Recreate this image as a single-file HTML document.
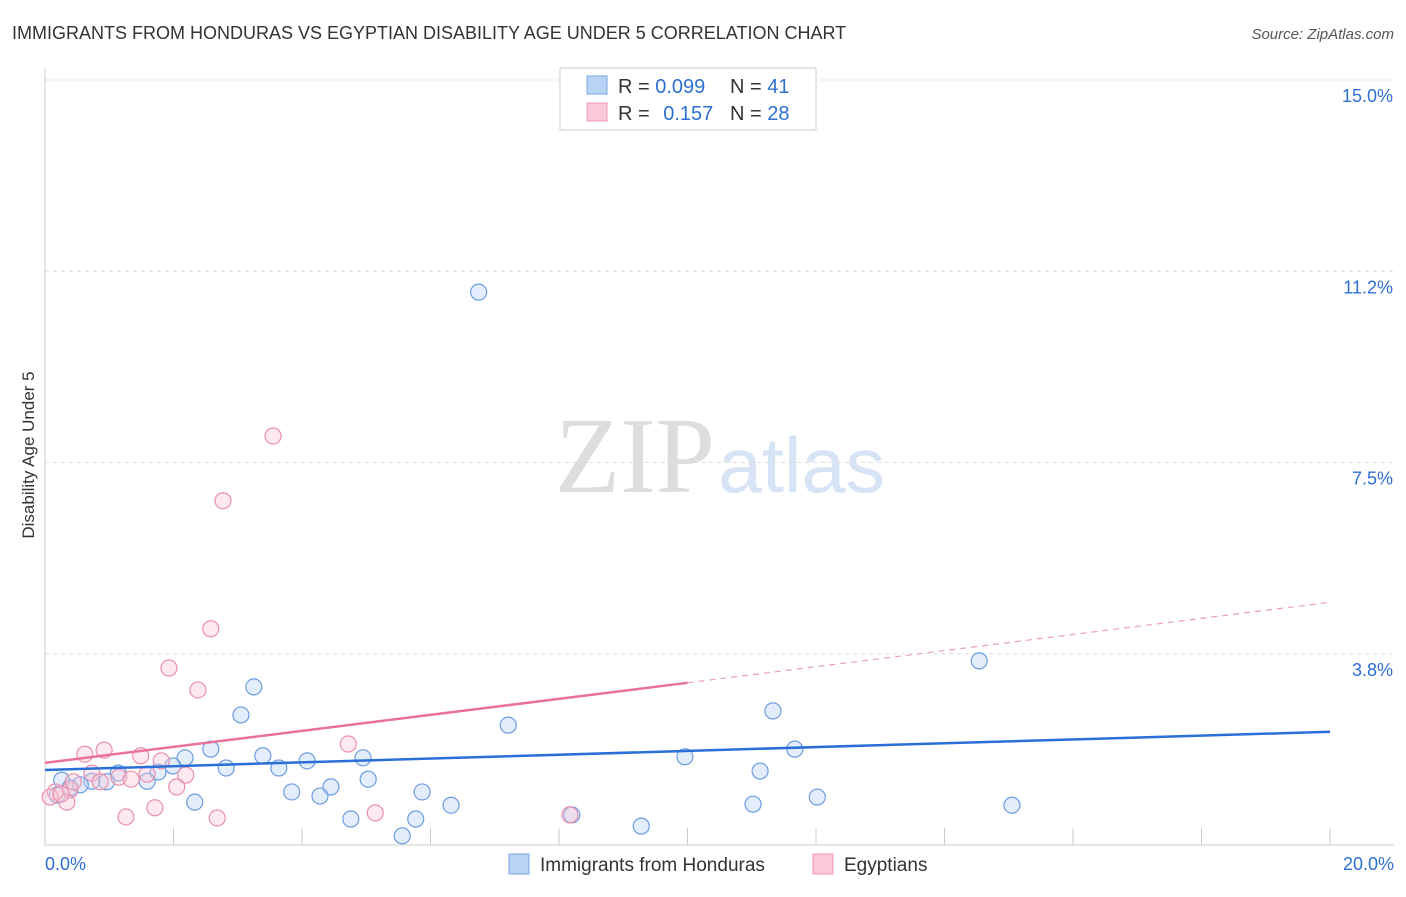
<!DOCTYPE html>
<html><head><meta charset="utf-8"><style>
body{margin:0;background:#fff;font-family:"Liberation Sans",sans-serif}
</style></head><body>
<svg width="1406" height="892" font-family="Liberation Sans, sans-serif">
<text x="12" y="39" font-size="18" fill="#333">IMMIGRANTS FROM HONDURAS VS EGYPTIAN DISABILITY AGE UNDER 5 CORRELATION CHART</text>
<text x="1394" y="39" font-size="15" fill="#555" text-anchor="end" font-style="italic">Source: ZipAtlas.com</text>
<text x="555" y="492" font-size="108" fill="#ddd" textLength="160" lengthAdjust="spacingAndGlyphs" font-family="Liberation Serif, serif">ZIP</text>
<text x="718" y="492" font-size="78" fill="#d6e4f5" textLength="167" lengthAdjust="spacingAndGlyphs">atlas</text>
<g id="grid"></g>
<line x1="45" y1="68" x2="45" y2="845" stroke="#ccc"/>
<line x1="45" y1="845" x2="1394" y2="845" stroke="#ccc"/>
<text x="34" y="455" font-size="17" fill="#333" text-anchor="middle" transform="rotate(-90 34 455)">Disability Age Under 5</text>
<g id="marks"></g>
<rect x="560" y="68" width="256" height="62" fill="#fff" stroke="#ccc"/>
<rect x="587" y="76" width="20" height="18" fill="#b8d3f5" stroke="#7aa7e0"/>
<rect x="587" y="103" width="20" height="18" fill="#fbc8d8" stroke="#ee9ab5"/>
<text x="618" y="93" font-size="20" fill="#333">R = <tspan fill="#2f6fd0">0.099</tspan></text>
<text x="730" y="93" font-size="20" fill="#333">N = <tspan fill="#2f6fd0">41</tspan></text>
<text x="618" y="120" font-size="20" fill="#333">R = <tspan fill="#2f6fd0" dx="8">0.157</tspan></text>
<text x="730" y="120" font-size="20" fill="#333">N = <tspan fill="#2f6fd0">28</tspan></text>
<rect x="509" y="854" width="20" height="20" fill="#b8d3f5" stroke="#7aa7e0"/>
<text x="540" y="871" font-size="19" fill="#333">Immigrants from Honduras</text>
<rect x="813" y="854" width="20" height="20" fill="#fbc8d8" stroke="#ee9ab5"/>
<text x="844" y="871" font-size="19" fill="#333">Egyptians</text>
<text x="45" y="870" font-size="18" fill="#2f6fd0">0.0%</text>
<text x="1394" y="870" font-size="18" fill="#2f6fd0" text-anchor="end">20.0%</text>
</svg>
<script>
const yTicks=[3.75,7.5,11.25,15];
const yTickLabels=["3.8%","7.5%","11.2%","15.0%"];
const xTicks=[0,2,4,6,8,10,12,14,16,18,20];
const blueX=[6.75,14.54,3.25,3.05,7.21,11.33,2.58,11.67,9.96,3.39,4.08,4.95,2.18,1.99,2.82,3.64,1.76,1.59,1.14,0.96,0.73,0.26,0.39,5.03,4.45,3.84,4.28,5.87,11.13,2.33,6.32,12.02,11.02,15.05,4.76,5.77,8.20,9.28,5.56,0.19,0.55];
const blueY=[10.84,3.61,3.10,2.55,2.35,2.63,1.88,1.88,1.73,1.75,1.65,1.71,1.71,1.55,1.51,1.51,1.43,1.25,1.41,1.24,1.25,1.27,1.12,1.29,1.14,1.04,0.96,1.04,1.45,0.84,0.78,0.94,0.80,0.78,0.51,0.51,0.59,0.37,0.18,0.98,1.18];
const pinkX=[3.55,2.77,2.58,1.93,2.38,4.72,0.92,0.62,1.49,1.81,2.19,2.05,1.15,0.73,1.34,1.59,0.39,0.16,0.08,0.34,0.44,1.26,1.71,2.68,5.14,8.17,0.25,0.86];
const pinkY=[8.02,6.75,4.24,3.47,3.04,1.98,1.86,1.78,1.75,1.65,1.37,1.14,1.33,1.41,1.29,1.39,1.08,1.04,0.94,0.84,1.24,0.55,0.73,0.53,0.63,0.59,1.00,1.24];
const blueFit=[[0,1.47],[20,2.22]];
const pinkFit=[[0,1.61],[10,3.18]];
const pinkExt=[[10,3.18],[20,4.76]];
const NS="http://www.w3.org/2000/svg";
const xs=v=>45+v*64.25, ys=v=>845-v*51;
const grid=document.getElementById('grid'), marks=document.getElementById('marks');
function mk(tag,attrs,parent){const e=document.createElementNS(NS,tag);for(const k in attrs)e.setAttribute(k,attrs[k]);parent.appendChild(e);return e;}
yTicks.forEach((t,i)=>{
 const l=mk('line',{x1:45,x2:1394,y1:ys(t),y2:ys(t),stroke:'#ddd','stroke-dasharray':'4,4'},grid);
 
 
 const tx=mk('text',{x:1393,y:ys(t)+22,'font-size':18,fill:'#2f6fd0','text-anchor':'end'},grid);
 tx.textContent=yTickLabels[i];
 
 
});
xTicks.forEach(t=>{
 const l=mk('line',{x1:xs(t),x2:xs(t),y1:828,y2:845,stroke:'#ccc'},grid);
 
 
});
function pts(X,Y,fill,stroke,name){X.forEach((x,i)=>{
 const c=mk('circle',{cx:xs(x),cy:ys(Y[i]),r:8,fill:fill,stroke:stroke,'stroke-width':1.2,'fill-opacity':0.4},marks);
 
 
});}
pts(blueX,blueY,'#b8d3f5','#6b9de0','point-honduras');
pts(pinkX,pinkY,'#fbc8d8','#ea8fae','point-egyptians');
function line(p,stroke,dash,w,name){
 const l=mk('line',{x1:xs(p[0][0]),y1:ys(p[0][1]),x2:xs(p[1][0]),y2:ys(p[1][1]),stroke:stroke,'stroke-width':w},marks);
 if(dash)l.setAttribute('stroke-dasharray',dash);
 
 
}
line(blueFit,'#2a6fd6',null,2.5,'trend-honduras');
line(pinkFit,'#e8729a',null,2.5,'trend-egyptians');
line(pinkExt,'#e8a0b8','6,5',1.2,'trend-egyptians-extension');
</script>
</body></html>
